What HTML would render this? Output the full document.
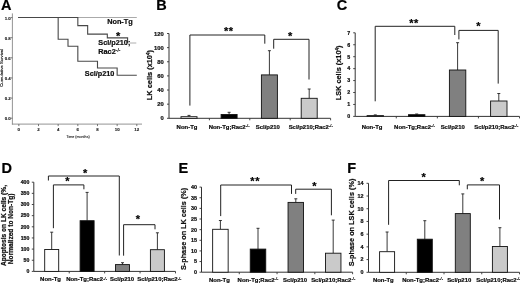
<!DOCTYPE html>
<html><head><meta charset="utf-8"><style>
html,body{margin:0;padding:0;background:#fff;}
body{width:520px;height:283px;overflow:hidden;}
svg{display:block;font-family:"Liberation Sans", sans-serif;filter:blur(0.3px);}
text{stroke:#000;stroke-width:0.2px;}
</style></head><body>
<svg width="520" height="283" viewBox="0 0 520 283">
<rect width="520" height="283" fill="#fff"/>
<text x="1.04" y="10.3" font-size="14.5" font-weight="bold" text-anchor="start" fill="#000">A</text>
<line x1="12.4" y1="13.4" x2="12.4" y2="124.6" stroke="#888" stroke-width="0.9"/>
<line x1="11.95" y1="124.1" x2="142" y2="124.1" stroke="#888" stroke-width="0.9"/>
<line x1="10.8" y1="118.2" x2="12.4" y2="118.2" stroke="#555" stroke-width="0.8"/>
<text x="10.8" y="120.3" font-size="4.4" font-weight="bold" text-anchor="end" fill="#222" style="stroke:#222;stroke-width:0.12px">0.0</text>
<line x1="10.8" y1="98.08" x2="12.4" y2="98.08" stroke="#555" stroke-width="0.8"/>
<text x="10.8" y="100.18" font-size="4.4" font-weight="bold" text-anchor="end" fill="#222" style="stroke:#222;stroke-width:0.12px">0.2</text>
<line x1="10.8" y1="77.96" x2="12.4" y2="77.96" stroke="#555" stroke-width="0.8"/>
<text x="10.8" y="80.06" font-size="4.4" font-weight="bold" text-anchor="end" fill="#222" style="stroke:#222;stroke-width:0.12px">0.4</text>
<line x1="10.8" y1="57.84" x2="12.4" y2="57.84" stroke="#555" stroke-width="0.8"/>
<text x="10.8" y="59.94" font-size="4.4" font-weight="bold" text-anchor="end" fill="#222" style="stroke:#222;stroke-width:0.12px">0.6</text>
<line x1="10.8" y1="37.72" x2="12.4" y2="37.72" stroke="#555" stroke-width="0.8"/>
<text x="10.8" y="39.82" font-size="4.4" font-weight="bold" text-anchor="end" fill="#222" style="stroke:#222;stroke-width:0.12px">0.8</text>
<line x1="10.8" y1="17.6" x2="12.4" y2="17.6" stroke="#555" stroke-width="0.8"/>
<text x="10.8" y="19.7" font-size="4.4" font-weight="bold" text-anchor="end" fill="#222" style="stroke:#222;stroke-width:0.12px">1.0</text>
<line x1="18.85" y1="124.1" x2="18.85" y2="126.1" stroke="#555" stroke-width="0.8"/>
<text x="18.85" y="130.9" font-size="4.4" font-weight="bold" text-anchor="middle" fill="#222" style="stroke:#222;stroke-width:0.12px">0</text>
<line x1="38.51" y1="124.1" x2="38.51" y2="126.1" stroke="#555" stroke-width="0.8"/>
<text x="38.51" y="130.9" font-size="4.4" font-weight="bold" text-anchor="middle" fill="#222" style="stroke:#222;stroke-width:0.12px">2</text>
<line x1="58.17" y1="124.1" x2="58.17" y2="126.1" stroke="#555" stroke-width="0.8"/>
<text x="58.17" y="130.9" font-size="4.4" font-weight="bold" text-anchor="middle" fill="#222" style="stroke:#222;stroke-width:0.12px">4</text>
<line x1="77.83" y1="124.1" x2="77.83" y2="126.1" stroke="#555" stroke-width="0.8"/>
<text x="77.83" y="130.9" font-size="4.4" font-weight="bold" text-anchor="middle" fill="#222" style="stroke:#222;stroke-width:0.12px">6</text>
<line x1="97.49" y1="124.1" x2="97.49" y2="126.1" stroke="#555" stroke-width="0.8"/>
<text x="97.49" y="130.9" font-size="4.4" font-weight="bold" text-anchor="middle" fill="#222" style="stroke:#222;stroke-width:0.12px">8</text>
<line x1="117.15" y1="124.1" x2="117.15" y2="126.1" stroke="#555" stroke-width="0.8"/>
<text x="117.15" y="130.9" font-size="4.4" font-weight="bold" text-anchor="middle" fill="#222" style="stroke:#222;stroke-width:0.12px">10</text>
<line x1="136.81" y1="124.1" x2="136.81" y2="126.1" stroke="#555" stroke-width="0.8"/>
<text x="136.81" y="130.9" font-size="4.4" font-weight="bold" text-anchor="middle" fill="#222" style="stroke:#222;stroke-width:0.12px">12</text>
<text x="78" y="137.6" font-size="3.65" font-weight="normal" text-anchor="middle" fill="#222" style="stroke:#222;stroke-width:0.1px">Time (months)</text>
<text x="3.3" y="67.8" font-size="4.3" font-weight="normal" text-anchor="middle" fill="#222" transform="rotate(-90 3.3 67.8)" style="stroke:#222;stroke-width:0.15px">Cumulative Survival</text>
<polyline points="18.2,17.5 136.81,17.5" fill="none" stroke="#aaaaaa" stroke-width="1.0" stroke-linejoin="miter"/>
<polyline points="18.2,17.5 77.83,17.5 77.83,25.6 87.66,25.6 87.66,34.1 107.32,34.1 107.32,37.9 127.6,37.9 127.6,43" fill="none" stroke="#484848" stroke-width="1.1" stroke-linejoin="miter"/>
<line x1="127.6" y1="43" x2="136.3" y2="43" stroke="#999" stroke-width="0.8"/>
<polyline points="18.2,17.5 58.17,17.5 58.17,39.2 68,39.2 68,46.3 77.83,46.3 77.83,61.3 97.49,61.3 97.49,68 117.15,68 117.15,75.3 136.81,75.3" fill="none" stroke="#484848" stroke-width="1.1" stroke-linejoin="miter"/>
<text x="107.2" y="24.1" font-size="7.3" font-weight="bold" text-anchor="start" fill="#111">Non-Tg</text>
<text x="118.2" y="39.92" font-size="11" font-weight="bold" text-anchor="middle" fill="#000">*</text>
<text x="98.3" y="45.1" font-size="7.3" font-weight="bold" text-anchor="start" fill="#111">Scl/p210;</text>
<text x="98.3" y="54.1" font-size="7.3" font-weight="bold" text-anchor="start" fill="#111">Rac2<tspan font-size="4.96" font-weight="normal" dy="-2.04">-/-</tspan></text>
<text x="84.8" y="76.1" font-size="7.3" font-weight="bold" text-anchor="start" fill="#111">Scl/p210</text>
<text x="156.2" y="10.3" font-size="14.5" font-weight="bold" text-anchor="start" fill="#000">B</text>
<line x1="169" y1="33.5" x2="169" y2="118.3" stroke="#333" stroke-width="1.0"/>
<line x1="167" y1="118.3" x2="169" y2="118.3" stroke="#333" stroke-width="0.9"/>
<text x="163.7" y="120.33" font-size="5.8" font-weight="bold" text-anchor="end" fill="#111">0</text>
<line x1="167" y1="104.17" x2="169" y2="104.17" stroke="#333" stroke-width="0.9"/>
<text x="163.7" y="106.2" font-size="5.8" font-weight="bold" text-anchor="end" fill="#111">20</text>
<line x1="167" y1="90.03" x2="169" y2="90.03" stroke="#333" stroke-width="0.9"/>
<text x="163.7" y="92.06" font-size="5.8" font-weight="bold" text-anchor="end" fill="#111">40</text>
<line x1="167" y1="75.9" x2="169" y2="75.9" stroke="#333" stroke-width="0.9"/>
<text x="163.7" y="77.93" font-size="5.8" font-weight="bold" text-anchor="end" fill="#111">60</text>
<line x1="167" y1="61.77" x2="169" y2="61.77" stroke="#333" stroke-width="0.9"/>
<text x="163.7" y="63.8" font-size="5.8" font-weight="bold" text-anchor="end" fill="#111">80</text>
<line x1="167" y1="47.63" x2="169" y2="47.63" stroke="#333" stroke-width="0.9"/>
<text x="163.7" y="49.66" font-size="5.8" font-weight="bold" text-anchor="end" fill="#111">100</text>
<line x1="167" y1="33.5" x2="169" y2="33.5" stroke="#333" stroke-width="0.9"/>
<text x="163.7" y="35.53" font-size="5.8" font-weight="bold" text-anchor="end" fill="#111">120</text>
<line x1="169" y1="118.3" x2="330.6" y2="118.3" stroke="#333" stroke-width="1.0"/>
<line x1="209.4" y1="118.3" x2="209.4" y2="120.3" stroke="#333" stroke-width="0.9"/>
<line x1="249.8" y1="118.3" x2="249.8" y2="120.3" stroke="#333" stroke-width="0.9"/>
<line x1="290.2" y1="118.3" x2="290.2" y2="120.3" stroke="#333" stroke-width="0.9"/>
<line x1="330.6" y1="118.3" x2="330.6" y2="120.3" stroke="#333" stroke-width="0.9"/>
<text x="151.7" y="75.1" font-size="7.4" font-weight="bold" text-anchor="middle" fill="#111" transform="rotate(-90 151.7 75.1)">LK cells (x10<tspan font-size="4.5" dy="-2.1">4</tspan><tspan dy="2.1">)</tspan></text>
<line x1="189" y1="116.7" x2="189" y2="115.4" stroke="#222" stroke-width="0.9"/>
<line x1="187.5" y1="115.4" x2="190.5" y2="115.4" stroke="#222" stroke-width="0.9"/>
<rect x="181" y="116.7" width="16" height="1.6" fill="#ffffff" stroke="#111" stroke-width="0.9"/>
<text x="187" y="128.6" font-size="5.95" font-weight="bold" text-anchor="middle" fill="#111">Non-Tg</text>
<line x1="229.1" y1="114.5" x2="229.1" y2="112.3" stroke="#222" stroke-width="0.9"/>
<line x1="227.6" y1="112.3" x2="230.6" y2="112.3" stroke="#222" stroke-width="0.9"/>
<rect x="221.1" y="114.5" width="16" height="3.8" fill="#000000" stroke="#111" stroke-width="0.9"/>
<text x="229.1" y="128.6" font-size="5.95" font-weight="bold" text-anchor="middle" fill="#111">Non-Tg;Rac2<tspan font-size="4.05" font-weight="normal" dy="-1.67">-/-</tspan></text>
<line x1="269.4" y1="74.9" x2="269.4" y2="50.7" stroke="#222" stroke-width="0.9"/>
<line x1="267.9" y1="50.7" x2="270.9" y2="50.7" stroke="#222" stroke-width="0.9"/>
<rect x="261.4" y="74.9" width="16" height="43.4" fill="#808080" stroke="#111" stroke-width="0.9"/>
<text x="267.8" y="128.6" font-size="5.95" font-weight="bold" text-anchor="middle" fill="#111">Scl/p210</text>
<line x1="309.2" y1="98.3" x2="309.2" y2="89" stroke="#222" stroke-width="0.9"/>
<line x1="307.7" y1="89" x2="310.7" y2="89" stroke="#222" stroke-width="0.9"/>
<rect x="301.2" y="98.3" width="16" height="20" fill="#cacaca" stroke="#111" stroke-width="0.9"/>
<text x="310.7" y="128.6" font-size="5.95" font-weight="bold" text-anchor="middle" fill="#111">Scl/p210;Rac2<tspan font-size="4.05" font-weight="normal" dy="-1.67">-/-</tspan></text>
<polyline points="189.9,105.6 189.9,35 264.8,35 264.8,43.7" fill="none" stroke="#222" stroke-width="1.0" stroke-linejoin="miter"/>
<text x="228.75" y="35.32" font-size="11" font-weight="bold" text-anchor="middle" fill="#000" letter-spacing="0.5">**</text>
<polyline points="273.7,48.7 273.7,39.3 309,39.3 309,79.5" fill="none" stroke="#222" stroke-width="1.0" stroke-linejoin="miter"/>
<text x="290.2" y="39.52" font-size="11" font-weight="bold" text-anchor="middle" fill="#000">*</text>
<text x="336.7" y="10.3" font-size="14.5" font-weight="bold" text-anchor="start" fill="#000">C</text>
<line x1="355.2" y1="32.8" x2="355.2" y2="116.4" stroke="#333" stroke-width="1.0"/>
<line x1="353.2" y1="116.4" x2="355.2" y2="116.4" stroke="#333" stroke-width="0.9"/>
<text x="350.2" y="118.26" font-size="5.3" font-weight="bold" text-anchor="end" fill="#111">0</text>
<line x1="353.2" y1="104.46" x2="355.2" y2="104.46" stroke="#333" stroke-width="0.9"/>
<text x="350.2" y="106.31" font-size="5.3" font-weight="bold" text-anchor="end" fill="#111">1</text>
<line x1="353.2" y1="92.51" x2="355.2" y2="92.51" stroke="#333" stroke-width="0.9"/>
<text x="350.2" y="94.37" font-size="5.3" font-weight="bold" text-anchor="end" fill="#111">2</text>
<line x1="353.2" y1="80.57" x2="355.2" y2="80.57" stroke="#333" stroke-width="0.9"/>
<text x="350.2" y="82.43" font-size="5.3" font-weight="bold" text-anchor="end" fill="#111">3</text>
<line x1="353.2" y1="68.63" x2="355.2" y2="68.63" stroke="#333" stroke-width="0.9"/>
<text x="350.2" y="70.48" font-size="5.3" font-weight="bold" text-anchor="end" fill="#111">4</text>
<line x1="353.2" y1="56.69" x2="355.2" y2="56.69" stroke="#333" stroke-width="0.9"/>
<text x="350.2" y="58.54" font-size="5.3" font-weight="bold" text-anchor="end" fill="#111">5</text>
<line x1="353.2" y1="44.74" x2="355.2" y2="44.74" stroke="#333" stroke-width="0.9"/>
<text x="350.2" y="46.6" font-size="5.3" font-weight="bold" text-anchor="end" fill="#111">6</text>
<line x1="353.2" y1="32.8" x2="355.2" y2="32.8" stroke="#333" stroke-width="0.9"/>
<text x="350.2" y="34.65" font-size="5.3" font-weight="bold" text-anchor="end" fill="#111">7</text>
<line x1="355.2" y1="116.4" x2="519.5" y2="116.4" stroke="#333" stroke-width="1.0"/>
<line x1="396.27" y1="116.4" x2="396.27" y2="118.4" stroke="#333" stroke-width="0.9"/>
<line x1="437.35" y1="116.4" x2="437.35" y2="118.4" stroke="#333" stroke-width="0.9"/>
<line x1="478.43" y1="116.4" x2="478.43" y2="118.4" stroke="#333" stroke-width="0.9"/>
<line x1="519.5" y1="116.4" x2="519.5" y2="118.4" stroke="#333" stroke-width="0.9"/>
<text x="341" y="72.9" font-size="7.35" font-weight="bold" text-anchor="middle" fill="#111" transform="rotate(-90 341 72.9)">LSK cells (x10<tspan font-size="4.5" dy="-2.1">4</tspan><tspan dy="2.1">)</tspan></text>
<line x1="375.3" y1="115.6" x2="375.3" y2="114.9" stroke="#222" stroke-width="0.9"/>
<line x1="373.8" y1="114.9" x2="376.8" y2="114.9" stroke="#222" stroke-width="0.9"/>
<rect x="367.1" y="115.6" width="16.4" height="0.8" fill="#ffffff" stroke="#111" stroke-width="0.9"/>
<text x="372.1" y="128.6" font-size="5.95" font-weight="bold" text-anchor="middle" fill="#111">Non-Tg</text>
<line x1="416.7" y1="114.7" x2="416.7" y2="114" stroke="#222" stroke-width="0.9"/>
<line x1="415.2" y1="114" x2="418.2" y2="114" stroke="#222" stroke-width="0.9"/>
<rect x="408.5" y="114.7" width="16.4" height="1.7" fill="#000000" stroke="#111" stroke-width="0.9"/>
<text x="414.5" y="128.6" font-size="5.95" font-weight="bold" text-anchor="middle" fill="#111">Non-Tg;Rac2<tspan font-size="4.05" font-weight="normal" dy="-1.67">-/-</tspan></text>
<line x1="457.6" y1="70" x2="457.6" y2="42.7" stroke="#222" stroke-width="0.9"/>
<line x1="456.1" y1="42.7" x2="459.1" y2="42.7" stroke="#222" stroke-width="0.9"/>
<rect x="449.4" y="70" width="16.4" height="46.4" fill="#808080" stroke="#111" stroke-width="0.9"/>
<text x="452.7" y="128.6" font-size="5.95" font-weight="bold" text-anchor="middle" fill="#111">Scl/p210</text>
<line x1="498.8" y1="101" x2="498.8" y2="93.5" stroke="#222" stroke-width="0.9"/>
<line x1="497.3" y1="93.5" x2="500.3" y2="93.5" stroke="#222" stroke-width="0.9"/>
<rect x="490.6" y="101" width="16.4" height="15.4" fill="#cacaca" stroke="#111" stroke-width="0.9"/>
<text x="496.3" y="128.6" font-size="5.95" font-weight="bold" text-anchor="middle" fill="#111">Scl/p210;Rac2<tspan font-size="4.05" font-weight="normal" dy="-1.67">-/-</tspan></text>
<polyline points="375.2,101.3 375.2,26.3 454.8,26.3 454.8,35" fill="none" stroke="#222" stroke-width="1.0" stroke-linejoin="miter"/>
<text x="413.95" y="27.22" font-size="11" font-weight="bold" text-anchor="middle" fill="#000" letter-spacing="0.5">**</text>
<polyline points="458.9,39.4 458.9,30.4 498.2,30.4 498.2,83.6" fill="none" stroke="#222" stroke-width="1.0" stroke-linejoin="miter"/>
<text x="478.3" y="30.12" font-size="11" font-weight="bold" text-anchor="middle" fill="#000">*</text>
<text x="1.43" y="172.8" font-size="14.5" font-weight="bold" text-anchor="start" fill="#000">D</text>
<line x1="33.8" y1="182.2" x2="33.8" y2="271.4" stroke="#333" stroke-width="1.0"/>
<line x1="31.8" y1="271.4" x2="33.8" y2="271.4" stroke="#333" stroke-width="0.9"/>
<text x="29.3" y="273.22" font-size="5.2" font-weight="bold" text-anchor="end" fill="#111">0</text>
<line x1="31.8" y1="260.25" x2="33.8" y2="260.25" stroke="#333" stroke-width="0.9"/>
<text x="29.3" y="262.07" font-size="5.2" font-weight="bold" text-anchor="end" fill="#111">50</text>
<line x1="31.8" y1="249.1" x2="33.8" y2="249.1" stroke="#333" stroke-width="0.9"/>
<text x="29.3" y="250.92" font-size="5.2" font-weight="bold" text-anchor="end" fill="#111">100</text>
<line x1="31.8" y1="237.95" x2="33.8" y2="237.95" stroke="#333" stroke-width="0.9"/>
<text x="29.3" y="239.77" font-size="5.2" font-weight="bold" text-anchor="end" fill="#111">150</text>
<line x1="31.8" y1="226.8" x2="33.8" y2="226.8" stroke="#333" stroke-width="0.9"/>
<text x="29.3" y="228.62" font-size="5.2" font-weight="bold" text-anchor="end" fill="#111">200</text>
<line x1="31.8" y1="215.65" x2="33.8" y2="215.65" stroke="#333" stroke-width="0.9"/>
<text x="29.3" y="217.47" font-size="5.2" font-weight="bold" text-anchor="end" fill="#111">250</text>
<line x1="31.8" y1="204.5" x2="33.8" y2="204.5" stroke="#333" stroke-width="0.9"/>
<text x="29.3" y="206.32" font-size="5.2" font-weight="bold" text-anchor="end" fill="#111">300</text>
<line x1="31.8" y1="193.35" x2="33.8" y2="193.35" stroke="#333" stroke-width="0.9"/>
<text x="29.3" y="195.17" font-size="5.2" font-weight="bold" text-anchor="end" fill="#111">350</text>
<line x1="31.8" y1="182.2" x2="33.8" y2="182.2" stroke="#333" stroke-width="0.9"/>
<text x="29.3" y="184.02" font-size="5.2" font-weight="bold" text-anchor="end" fill="#111">400</text>
<line x1="33.8" y1="271.4" x2="175.5" y2="271.4" stroke="#333" stroke-width="1.0"/>
<line x1="69.22" y1="271.4" x2="69.22" y2="273.4" stroke="#333" stroke-width="0.9"/>
<line x1="104.65" y1="271.4" x2="104.65" y2="273.4" stroke="#333" stroke-width="0.9"/>
<line x1="140.07" y1="271.4" x2="140.07" y2="273.4" stroke="#333" stroke-width="0.9"/>
<line x1="175.5" y1="271.4" x2="175.5" y2="273.4" stroke="#333" stroke-width="0.9"/>
<text x="5.9" y="225.5" font-size="6.6" font-weight="bold" text-anchor="middle" fill="#111" transform="rotate(-90 5.9 225.5)">Apoptosis on LK cells (%,</text>
<text x="13.5" y="228.8" font-size="6.6" font-weight="bold" text-anchor="middle" fill="#111" transform="rotate(-90 13.5 228.8)">Normalized to Non-Tg)</text>
<line x1="51.7" y1="249.5" x2="51.7" y2="232.2" stroke="#222" stroke-width="0.9"/>
<line x1="50.2" y1="232.2" x2="53.2" y2="232.2" stroke="#222" stroke-width="0.9"/>
<rect x="44.7" y="249.5" width="14" height="21.9" fill="#ffffff" stroke="#111" stroke-width="0.9"/>
<text x="50.5" y="281.2" font-size="5.95" font-weight="bold" text-anchor="middle" fill="#111">Non-Tg</text>
<line x1="87.1" y1="220.7" x2="87.1" y2="192.4" stroke="#222" stroke-width="0.9"/>
<line x1="85.6" y1="192.4" x2="88.6" y2="192.4" stroke="#222" stroke-width="0.9"/>
<rect x="80.1" y="220.7" width="14" height="50.7" fill="#000000" stroke="#111" stroke-width="0.9"/>
<text x="86.6" y="281.2" font-size="5.95" font-weight="bold" text-anchor="middle" fill="#111">Non-Tg;Rac2<tspan font-size="4.05" font-weight="normal" dy="-1.67">-/-</tspan></text>
<line x1="122.5" y1="264.6" x2="122.5" y2="262.7" stroke="#222" stroke-width="0.9"/>
<line x1="121" y1="262.7" x2="124" y2="262.7" stroke="#222" stroke-width="0.9"/>
<rect x="115.5" y="264.6" width="14" height="6.8" fill="#808080" stroke="#111" stroke-width="0.9"/>
<text x="122.1" y="281.2" font-size="5.95" font-weight="bold" text-anchor="middle" fill="#111">Scl/p210</text>
<line x1="157.4" y1="249.7" x2="157.4" y2="232.8" stroke="#222" stroke-width="0.9"/>
<line x1="155.9" y1="232.8" x2="158.9" y2="232.8" stroke="#222" stroke-width="0.9"/>
<rect x="150.4" y="249.7" width="14" height="21.7" fill="#cacaca" stroke="#111" stroke-width="0.9"/>
<text x="159.4" y="281.2" font-size="5.95" font-weight="bold" text-anchor="middle" fill="#111">Scl/p210;Rac2<tspan font-size="4.05" font-weight="normal" dy="-1.67">-/-</tspan></text>
<polyline points="48.4,180.5 48.4,176 119.3,176 119.3,255.5" fill="none" stroke="#222" stroke-width="1.0" stroke-linejoin="miter"/>
<text x="85.2" y="176.72" font-size="11" font-weight="bold" text-anchor="middle" fill="#000">*</text>
<polyline points="53.4,228.2 53.4,184.9 83.9,184.9 83.9,189.3" fill="none" stroke="#222" stroke-width="1.0" stroke-linejoin="miter"/>
<text x="67.5" y="185.42" font-size="11" font-weight="bold" text-anchor="middle" fill="#000">*</text>
<polyline points="123.6,255.7 123.6,224.7 155,224.7 155,229.3" fill="none" stroke="#222" stroke-width="1.0" stroke-linejoin="miter"/>
<text x="138" y="223.12" font-size="11" font-weight="bold" text-anchor="middle" fill="#000">*</text>
<text x="178.6" y="172.7" font-size="14.5" font-weight="bold" text-anchor="start" fill="#000">E</text>
<line x1="201.5" y1="187.1" x2="201.5" y2="272.2" stroke="#333" stroke-width="1.0"/>
<line x1="199.5" y1="272.2" x2="201.5" y2="272.2" stroke="#333" stroke-width="0.9"/>
<text x="197" y="274.09" font-size="5.4" font-weight="bold" text-anchor="end" fill="#111">0</text>
<line x1="199.5" y1="261.56" x2="201.5" y2="261.56" stroke="#333" stroke-width="0.9"/>
<text x="197" y="263.45" font-size="5.4" font-weight="bold" text-anchor="end" fill="#111">5</text>
<line x1="199.5" y1="250.92" x2="201.5" y2="250.92" stroke="#333" stroke-width="0.9"/>
<text x="197" y="252.81" font-size="5.4" font-weight="bold" text-anchor="end" fill="#111">10</text>
<line x1="199.5" y1="240.29" x2="201.5" y2="240.29" stroke="#333" stroke-width="0.9"/>
<text x="197" y="242.18" font-size="5.4" font-weight="bold" text-anchor="end" fill="#111">15</text>
<line x1="199.5" y1="229.65" x2="201.5" y2="229.65" stroke="#333" stroke-width="0.9"/>
<text x="197" y="231.54" font-size="5.4" font-weight="bold" text-anchor="end" fill="#111">20</text>
<line x1="199.5" y1="219.01" x2="201.5" y2="219.01" stroke="#333" stroke-width="0.9"/>
<text x="197" y="220.9" font-size="5.4" font-weight="bold" text-anchor="end" fill="#111">25</text>
<line x1="199.5" y1="208.38" x2="201.5" y2="208.38" stroke="#333" stroke-width="0.9"/>
<text x="197" y="210.26" font-size="5.4" font-weight="bold" text-anchor="end" fill="#111">30</text>
<line x1="199.5" y1="197.74" x2="201.5" y2="197.74" stroke="#333" stroke-width="0.9"/>
<text x="197" y="199.63" font-size="5.4" font-weight="bold" text-anchor="end" fill="#111">35</text>
<line x1="199.5" y1="187.1" x2="201.5" y2="187.1" stroke="#333" stroke-width="0.9"/>
<text x="197" y="188.99" font-size="5.4" font-weight="bold" text-anchor="end" fill="#111">40</text>
<line x1="201.5" y1="272.2" x2="352.6" y2="272.2" stroke="#333" stroke-width="1.0"/>
<line x1="239.28" y1="272.2" x2="239.28" y2="274.2" stroke="#333" stroke-width="0.9"/>
<line x1="277.05" y1="272.2" x2="277.05" y2="274.2" stroke="#333" stroke-width="0.9"/>
<line x1="314.83" y1="272.2" x2="314.83" y2="274.2" stroke="#333" stroke-width="0.9"/>
<line x1="352.6" y1="272.2" x2="352.6" y2="274.2" stroke="#333" stroke-width="0.9"/>
<text x="186.2" y="228.9" font-size="7.25" font-weight="bold" text-anchor="middle" fill="#111" transform="rotate(-90 186.2 228.9)">S-phase on LK cells (%)</text>
<line x1="220.4" y1="229.3" x2="220.4" y2="220.5" stroke="#222" stroke-width="0.9"/>
<line x1="218.9" y1="220.5" x2="221.9" y2="220.5" stroke="#222" stroke-width="0.9"/>
<rect x="212.65" y="229.3" width="15.5" height="42.9" fill="#ffffff" stroke="#111" stroke-width="0.9"/>
<text x="219.4" y="281.8" font-size="5.95" font-weight="bold" text-anchor="middle" fill="#111">Non-Tg</text>
<line x1="258" y1="249.1" x2="258" y2="228.3" stroke="#222" stroke-width="0.9"/>
<line x1="256.5" y1="228.3" x2="259.5" y2="228.3" stroke="#222" stroke-width="0.9"/>
<rect x="250.25" y="249.1" width="15.5" height="23.1" fill="#000000" stroke="#111" stroke-width="0.9"/>
<text x="258" y="281.8" font-size="5.95" font-weight="bold" text-anchor="middle" fill="#111">Non-Tg;Rac2<tspan font-size="4.05" font-weight="normal" dy="-1.67">-/-</tspan></text>
<line x1="295.8" y1="202.4" x2="295.8" y2="198.8" stroke="#222" stroke-width="0.9"/>
<line x1="294.3" y1="198.8" x2="297.3" y2="198.8" stroke="#222" stroke-width="0.9"/>
<rect x="288.05" y="202.4" width="15.5" height="69.8" fill="#808080" stroke="#111" stroke-width="0.9"/>
<text x="295.1" y="281.8" font-size="5.95" font-weight="bold" text-anchor="middle" fill="#111">Scl/p210</text>
<line x1="333.2" y1="253.2" x2="333.2" y2="220.1" stroke="#222" stroke-width="0.9"/>
<line x1="331.7" y1="220.1" x2="334.7" y2="220.1" stroke="#222" stroke-width="0.9"/>
<rect x="325.45" y="253.2" width="15.5" height="19" fill="#cacaca" stroke="#111" stroke-width="0.9"/>
<text x="333.2" y="281.8" font-size="5.95" font-weight="bold" text-anchor="middle" fill="#111">Scl/p210;Rac2<tspan font-size="4.05" font-weight="normal" dy="-1.67">-/-</tspan></text>
<polyline points="220.7,216.1 220.7,185 291.5,185 291.5,193.9" fill="none" stroke="#222" stroke-width="1.0" stroke-linejoin="miter"/>
<text x="255.15" y="184.92" font-size="11" font-weight="bold" text-anchor="middle" fill="#000" letter-spacing="0.5">**</text>
<polyline points="295.7,193.9 295.7,189.2 331.4,189.2 331.4,215.3" fill="none" stroke="#222" stroke-width="1.0" stroke-linejoin="miter"/>
<text x="314.4" y="189.72" font-size="11" font-weight="bold" text-anchor="middle" fill="#000">*</text>
<text x="347.3" y="172.8" font-size="14.5" font-weight="bold" text-anchor="start" fill="#000">F</text>
<line x1="368.5" y1="183.3" x2="368.5" y2="272.3" stroke="#333" stroke-width="1.0"/>
<line x1="366.5" y1="272.3" x2="368.5" y2="272.3" stroke="#333" stroke-width="0.9"/>
<text x="363.5" y="274.19" font-size="5.4" font-weight="bold" text-anchor="end" fill="#111">0</text>
<line x1="366.5" y1="259.59" x2="368.5" y2="259.59" stroke="#333" stroke-width="0.9"/>
<text x="363.5" y="261.48" font-size="5.4" font-weight="bold" text-anchor="end" fill="#111">2</text>
<line x1="366.5" y1="246.87" x2="368.5" y2="246.87" stroke="#333" stroke-width="0.9"/>
<text x="363.5" y="248.76" font-size="5.4" font-weight="bold" text-anchor="end" fill="#111">4</text>
<line x1="366.5" y1="234.16" x2="368.5" y2="234.16" stroke="#333" stroke-width="0.9"/>
<text x="363.5" y="236.05" font-size="5.4" font-weight="bold" text-anchor="end" fill="#111">6</text>
<line x1="366.5" y1="221.44" x2="368.5" y2="221.44" stroke="#333" stroke-width="0.9"/>
<text x="363.5" y="223.33" font-size="5.4" font-weight="bold" text-anchor="end" fill="#111">8</text>
<line x1="366.5" y1="208.73" x2="368.5" y2="208.73" stroke="#333" stroke-width="0.9"/>
<text x="363.5" y="210.62" font-size="5.4" font-weight="bold" text-anchor="end" fill="#111">10</text>
<line x1="366.5" y1="196.01" x2="368.5" y2="196.01" stroke="#333" stroke-width="0.9"/>
<text x="363.5" y="197.9" font-size="5.4" font-weight="bold" text-anchor="end" fill="#111">12</text>
<line x1="366.5" y1="183.3" x2="368.5" y2="183.3" stroke="#333" stroke-width="0.9"/>
<text x="363.5" y="185.19" font-size="5.4" font-weight="bold" text-anchor="end" fill="#111">14</text>
<line x1="368.5" y1="272.3" x2="519.5" y2="272.3" stroke="#333" stroke-width="1.0"/>
<line x1="406.25" y1="272.3" x2="406.25" y2="274.3" stroke="#333" stroke-width="0.9"/>
<line x1="444" y1="272.3" x2="444" y2="274.3" stroke="#333" stroke-width="0.9"/>
<line x1="481.75" y1="272.3" x2="481.75" y2="274.3" stroke="#333" stroke-width="0.9"/>
<line x1="519.5" y1="272.3" x2="519.5" y2="274.3" stroke="#333" stroke-width="0.9"/>
<text x="353.6" y="222.45" font-size="7.3" font-weight="bold" text-anchor="middle" fill="#111" transform="rotate(-90 353.6 222.45)">S-phase on LSK cells (%)</text>
<line x1="387.1" y1="251.7" x2="387.1" y2="232" stroke="#222" stroke-width="0.9"/>
<line x1="385.6" y1="232" x2="388.6" y2="232" stroke="#222" stroke-width="0.9"/>
<rect x="379.6" y="251.7" width="15" height="20.6" fill="#ffffff" stroke="#111" stroke-width="0.9"/>
<text x="383.3" y="281.7" font-size="5.95" font-weight="bold" text-anchor="middle" fill="#111">Non-Tg</text>
<line x1="424.8" y1="239.2" x2="424.8" y2="220.7" stroke="#222" stroke-width="0.9"/>
<line x1="423.3" y1="220.7" x2="426.3" y2="220.7" stroke="#222" stroke-width="0.9"/>
<rect x="417.3" y="239.2" width="15" height="33.1" fill="#000000" stroke="#111" stroke-width="0.9"/>
<text x="422.6" y="281.7" font-size="5.95" font-weight="bold" text-anchor="middle" fill="#111">Non-Tg;Rac2<tspan font-size="4.05" font-weight="normal" dy="-1.67">-/-</tspan></text>
<line x1="462.8" y1="213.6" x2="462.8" y2="193.9" stroke="#222" stroke-width="0.9"/>
<line x1="461.3" y1="193.9" x2="464.3" y2="193.9" stroke="#222" stroke-width="0.9"/>
<rect x="455.3" y="213.6" width="15" height="58.7" fill="#808080" stroke="#111" stroke-width="0.9"/>
<text x="459.2" y="281.7" font-size="5.95" font-weight="bold" text-anchor="middle" fill="#111">Scl/p210</text>
<line x1="499.9" y1="246.5" x2="499.9" y2="227.7" stroke="#222" stroke-width="0.9"/>
<line x1="498.4" y1="227.7" x2="501.4" y2="227.7" stroke="#222" stroke-width="0.9"/>
<rect x="492.4" y="246.5" width="15" height="25.8" fill="#cacaca" stroke="#111" stroke-width="0.9"/>
<text x="498.4" y="281.7" font-size="5.95" font-weight="bold" text-anchor="middle" fill="#111">Scl/p210;Rac2<tspan font-size="4.05" font-weight="normal" dy="-1.67">-/-</tspan></text>
<polyline points="388.6,224.8 388.6,180.5 459.3,180.5 459.3,185.3" fill="none" stroke="#222" stroke-width="1.0" stroke-linejoin="miter"/>
<text x="423.6" y="180.62" font-size="11" font-weight="bold" text-anchor="middle" fill="#000">*</text>
<polyline points="467.3,189.3 467.3,184.9 499.5,184.9 499.5,219.5" fill="none" stroke="#222" stroke-width="1.0" stroke-linejoin="miter"/>
<text x="482.2" y="185.42" font-size="11" font-weight="bold" text-anchor="middle" fill="#000">*</text>
</svg>
</body></html>
